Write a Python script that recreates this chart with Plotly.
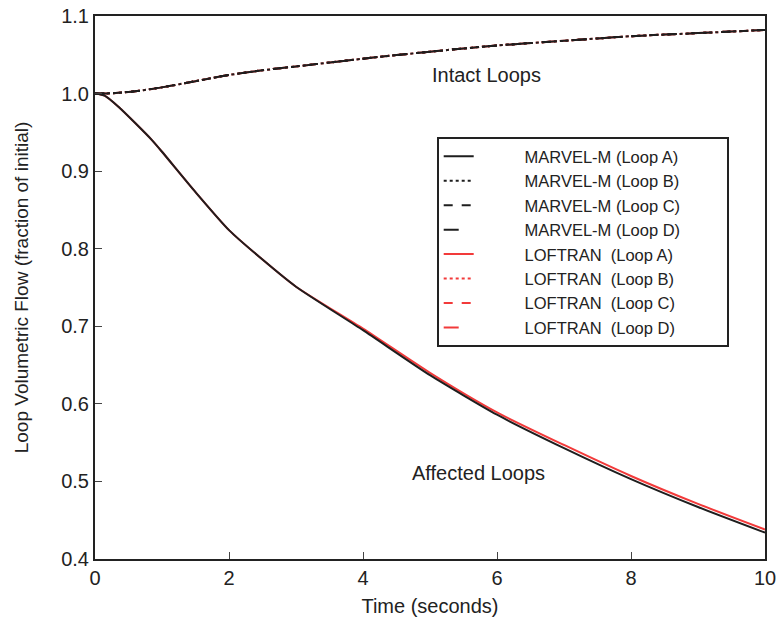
import plotly.graph_objects as go

t = [0, 0.15, 0.35, 0.6, 0.85, 1.0, 1.5, 2, 2.5, 3, 4, 5, 6, 7, 8, 9, 10]
marvel_affected = [1.0, 0.997, 0.983, 0.962, 0.940, 0.925, 0.873, 0.824, 0.786, 0.751, 0.695, 0.637, 0.586, 0.543, 0.503, 0.467, 0.434]
loftran_affected = [1.0, 0.997, 0.983, 0.962, 0.940, 0.925, 0.873, 0.824, 0.786, 0.751, 0.697, 0.640, 0.589, 0.547, 0.507, 0.471, 0.438]
intact = [1.0, 1.0, 1.001, 1.003, 1.006, 1.008, 1.016, 1.024, 1.030, 1.035, 1.045, 1.054, 1.062, 1.068, 1.074, 1.078, 1.082]

names = ["MARVEL-M (Loop A)", "MARVEL-M (Loop B)", "MARVEL-M (Loop C)", "MARVEL-M (Loop D)",
         "LOFTRAN  (Loop A)", "LOFTRAN  (Loop B)", "LOFTRAN  (Loop C)", "LOFTRAN  (Loop D)"]
series = [marvel_affected, intact, intact, intact, loftran_affected, intact, intact, intact]
dashes = ["solid", "dot", "dash", "longdash"] * 2
colors = ["#1e1e1e"] * 4 + ["#f23a3a"] * 4

LEAD = "\u00a0" * 10
TRAIL = "\u00a0" * 9

fig = go.Figure()
# draw LOFTRAN first so MARVEL-M lies on top; legend order kept by legendrank
order = [4, 5, 6, 7, 0, 1, 2, 3]
for i in order:
    fig.add_trace(go.Scatter(x=t, y=series[i], mode="lines", name=LEAD + names[i] + TRAIL,
                             legendrank=i + 1,
                             line=dict(color=colors[i], dash=dashes[i], width=2,
                                       shape="spline", smoothing=0.6)))

fig.update_layout(
    width=779, height=628,
    margin=dict(l=95, r=14, t=16, b=69),
    paper_bgcolor="white", plot_bgcolor="white",
    font=dict(family="Arial, Liberation Sans, sans-serif", color="#222222"),
    showlegend=True,
    legend=dict(x=0.51, y=0.777, xanchor="left", yanchor="top",
                bgcolor="white", bordercolor="#222222", borderwidth=2,
                font=dict(size=16.5), tracegroupgap=0, traceorder="normal"),
    xaxis=dict(range=[0, 10], tickvals=[0, 2, 4, 6, 8, 10], ticks="inside", ticklen=7,
               showline=True, linecolor="#222222", linewidth=2, mirror=True,
               showgrid=False, zeroline=False, tickfont=dict(size=20),
               ticklabeloverflow="allow", automargin="bottom",
               title=dict(text="Time (seconds)", font=dict(size=20), standoff=11)),
    yaxis=dict(range=[0.4, 1.1], tickvals=[0.4, 0.5, 0.6, 0.7, 0.8, 0.9, 1.0, 1.1],
               ticktext=["0.4", "0.5", "0.6", "0.7", "0.8", "0.9", "1.0", "1.1"],
               ticks="inside", ticklen=7, automargin="left",
               showline=True, linecolor="#222222", linewidth=2, mirror=True,
               showgrid=False, zeroline=False, tickfont=dict(size=20),
               title=dict(text="Loop Volumetric Flow (fraction of initial)", font=dict(size=19), standoff=28)),
    annotations=[
        dict(x=5.84, y=1.024, text="Intact Loops", showarrow=False, font=dict(size=20), xanchor="center"),
        dict(x=5.72, y=0.511, text="Affected Loops", showarrow=False, font=dict(size=20), xanchor="center"),
    ],
)

fig.write_html("out.html")
